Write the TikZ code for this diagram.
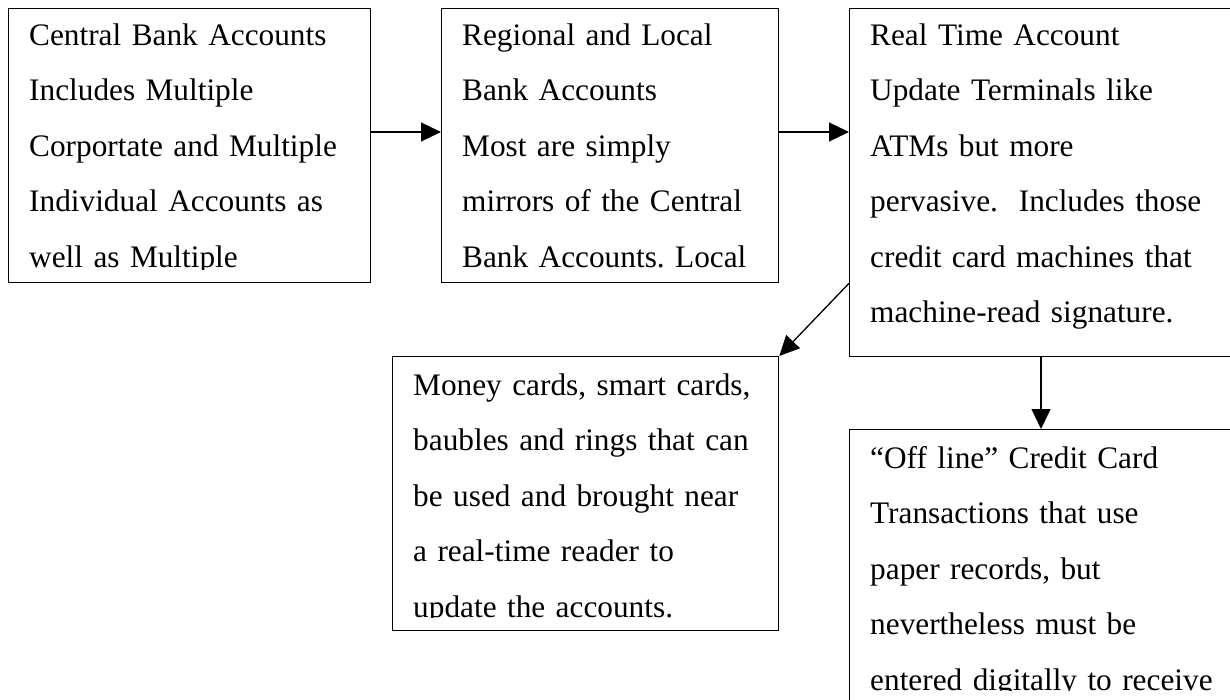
\documentclass[tikz,border=0pt]{standalone}
\usepackage{fontspec}
\setmainfont{Liberation Serif}
\frenchspacing
\usetikzlibrary{arrows.meta}
\tikzset{
  box/.style={draw=black, line width=1.3pt, fill=white, inner sep=0pt, anchor=north west},
  txt/.style={inner sep=0pt, anchor=north west, align=left, text width=520pt,
    font=\fontsize{31.3}{55.5}\selectfont},
  arr/.style={line width=1.3pt, -{Triangle[length=20pt,width=19pt]}}
}
\newcommand{\cliptext}[3]{%
  \begin{scope}
    \clip (#1.north west) rectangle ([yshift=13.5pt]#1.south east);
    \node[txt] at ([xshift=21pt,yshift=#2]#1.north west) {\strut #3};
  \end{scope}}
\begin{document}
\begin{tikzpicture}[x=1pt,y=-1pt]
\path[use as bounding box, fill=white] (0,0) rectangle (1230,700);
\clip (0,0) rectangle (1230,700);

\node[box, minimum width=362pt, minimum height=274pt] (b1) at (8,8) {};
\node[box, minimum width=337pt, minimum height=274pt] (b2) at (441,8) {};
\node[box, minimum width=400pt, minimum height=348pt] (b3) at (849,8) {};
\node[box, minimum width=386pt, minimum height=274pt] (b4) at (392,356) {};
\node[box, minimum width=400pt, minimum height=274pt] (b5) at (849,429) {};

\cliptext{b1}{1.8pt}{Central Bank Accounts\\Includes Multiple\\Corportate and Multiple\\Individual Accounts as\\well as Multiple\\}
\cliptext{b2}{1.8pt}{Regional and Local\\Bank Accounts\\Most are simply\\mirrors of the Central\\Bank Accounts. Local\\}
\cliptext{b3}{1.8pt}{Real Time Account\\Update Terminals like\\ATMs but more\\pervasive.\ \ Includes those\\credit card machines that\\machine-read signature.}
\cliptext{b4}{-0.3pt}{Money cards, smart cards,\\baubles and rings that can\\be used and brought near\\a real-time reader to\\update the accounts.\\}
\cliptext{b5}{-0.3pt}{“Off line” Credit Card\\Transactions that use\\paper records, but\\nevertheless must be\\entered digitally to receive\\}

\draw[arr] (b1.east |- 0,132) -- (b2.west |- 0,132);
\draw[arr] (b2.east |- 0,132) -- (b3.west |- 0,132);
\draw[arr] (b3.west |- b1.south) -- (b4.north east);
\draw[arr] (b3.south -| 1041,0) -- (b5.north -| 1041,0);
\end{tikzpicture}
\end{document}
